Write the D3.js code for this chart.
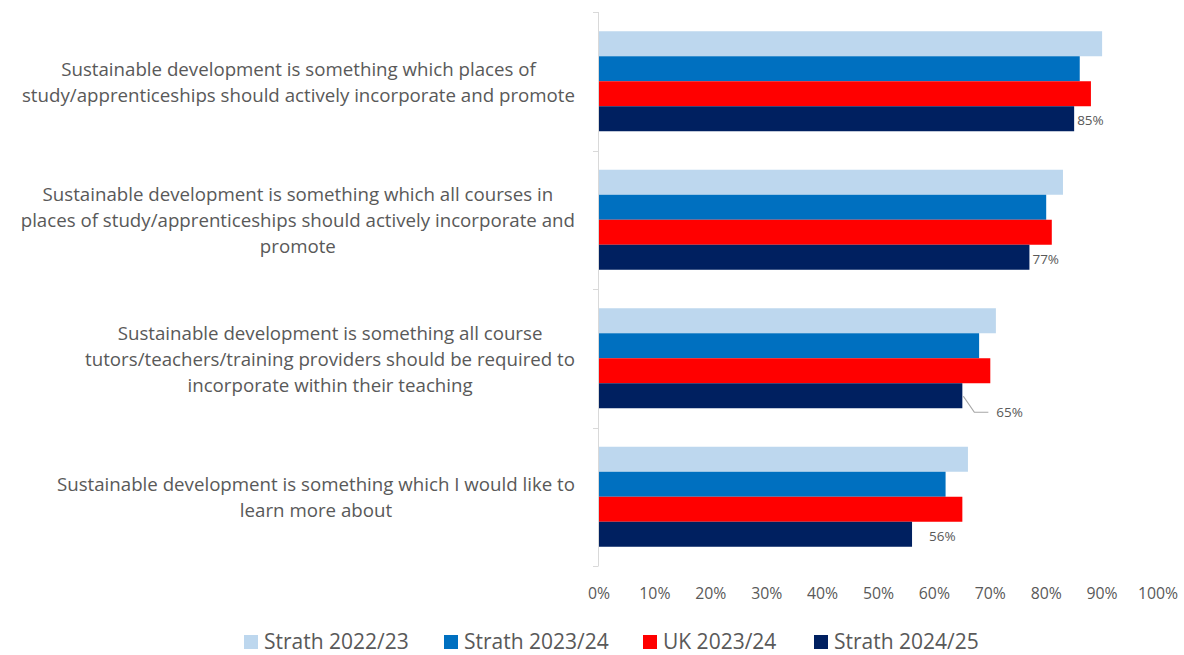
<!DOCTYPE html>
<html>
<head>
<meta charset="utf-8">
<script src="https://cdn.jsdelivr.net/npm/d3@7"></script>
<style>
  html, body { margin: 0; padding: 0; background: #fff; }
  svg { display: block; }
  text { font-family: "Open Sans", Lato, sans-serif; fill: #595959; }
</style>
</head>
<body>
<svg id="chart" width="1184" height="655"></svg>
<script>
const categories = [
  ["Sustainable development is something which places of", "study/apprenticeships should actively incorporate and promote"],
  ["Sustainable development is something which all courses in", "places of study/apprenticeships should actively incorporate and", "promote"],
  ["Sustainable development is something all course", "tutors/teachers/training providers should be required to", "incorporate within their teaching"],
  ["Sustainable development is something which I would like to", "learn more about"]
];
const seriesNames = ["Strath 2022/23", "Strath 2023/24", "UK 2023/24", "Strath 2024/25"];
const seriesColors = ["#BDD7EE", "#0070C0", "#FF0000", "#002060"];
const strath2223 = [90, 83, 71, 66];
const strath2324 = [86, 80, 68, 62];
const uk2324 = [88, 81, 70, 65];
const strath2425 = [85, 77, 65, 56];
const xTicks = [0, 10, 20, 30, 40, 50, 60, 70, 80, 90, 100];

const values = [strath2223, strath2324, uk2324, strath2425];
const svg = d3.select("#chart");

const plotLeft = 599, plotRight = 1158, plotTop = 12, plotBottom = 566;
const x = d3.scaleLinear().domain([0, 100]).range([plotLeft, plotRight]);
const y0 = d3.scaleBand().domain(d3.range(categories.length)).range([plotTop, plotBottom]).paddingInner(0).paddingOuter(0);
const y1 = d3.scaleBand().domain(d3.range(seriesNames.length)).range([0, y0.bandwidth()]).paddingInner(0).paddingOuter(0.77);

// bars
const groups = svg.append("g").selectAll("g").data(categories).join("g")
  .attr("transform", (d, i) => `translate(0,${y0(i)})`);
groups.each(function(d, ci) {
  const g = d3.select(this);
  seriesNames.forEach((s, si) => {
    g.append("rect")
      .attr("x", x(0))
      .attr("y", y1(si))
      .attr("width", x(values[si][ci]) - x(0))
      .attr("height", y1.bandwidth())
      .attr("fill", seriesColors[si]);
  });
});

// vertical category axis with ticks
const axisG = svg.append("g");
axisG.append("line").attr("x1", plotLeft - 0.5).attr("x2", plotLeft - 0.5)
  .attr("y1", plotTop).attr("y2", plotBottom).attr("stroke", "#D9D9D9").attr("stroke-width", 1);
d3.range(categories.length + 1).forEach(i => {
  const yy = plotTop + i * y0.step();
  axisG.append("line").attr("x1", plotLeft - 6).attr("x2", plotLeft - 0.5)
    .attr("y1", Math.round(yy) + 0.5).attr("y2", Math.round(yy) + 0.5)
    .attr("stroke", "#D9D9D9").attr("stroke-width", 1);
});

// category labels: block right edge at 575, lines centered within block
const labelRight = 575, lineH = 26;
categories.forEach((lines, ci) => {
  const cy = y0(ci) + y0.bandwidth() / 2;
  const tg = svg.append("g");
  const texts = lines.map((ln, li) => tg.append("text")
    .attr("font-size", 18.7)
    .attr("text-anchor", "middle")
    .attr("dominant-baseline", "central")
    .attr("y", cy + (li - (lines.length - 1) / 2) * lineH)
    .text(ln));
  const maxW = d3.max(texts, t => t.node().getComputedTextLength());
  texts.forEach(t => t.attr("x", labelRight - maxW / 2));
});

// x axis tick labels
svg.append("g").selectAll("text").data(xTicks).join("text")
  .attr("x", d => x(d))
  .attr("y", 593)
  .attr("text-anchor", "middle")
  .attr("dominant-baseline", "central")
  .attr("font-size", 15.8)
  .text(d => d + "%");

// data labels for Strath 2024/25
const lastIdx = 3;
categories.forEach((c, ci) => {
  const v = strath2425[ci];
  const barEnd = x(v);
  const by = y0(ci) + y1(lastIdx);
  if (ci === 2) {
    const ly = by + y1.bandwidth() + 4;
    svg.append("path")
      .attr("d", `M${barEnd + 1},${by + y1.bandwidth() - 12} L${barEnd + 12},${ly} L${barEnd + 26},${ly}`)
      .attr("fill", "none").attr("stroke", "#A6A6A6").attr("stroke-width", 1.2);
    svg.append("text").attr("x", barEnd + 34).attr("y", ly)
      .attr("dominant-baseline", "central").attr("font-size", 13.5).text(v + "%");
  } else {
    svg.append("text").attr("x", barEnd + 3 + (ci === 3 ? 14 : 0)).attr("y", by + y1.bandwidth() / 2 + 1.5)
      .attr("dominant-baseline", "central").attr("font-size", 13.5).text(v + "%");
  }
});

// legend
const legendX = [244, 444, 643, 814];
const lg = svg.append("g");
seriesNames.forEach((s, i) => {
  lg.append("rect").attr("x", legendX[i]).attr("y", 635).attr("width", 14).attr("height", 14).attr("fill", seriesColors[i]);
  lg.append("text").attr("x", legendX[i] + 20).attr("y", 641)
    .attr("dominant-baseline", "central").attr("font-size", 21).text(s);
});
</script>
</body>
</html>
